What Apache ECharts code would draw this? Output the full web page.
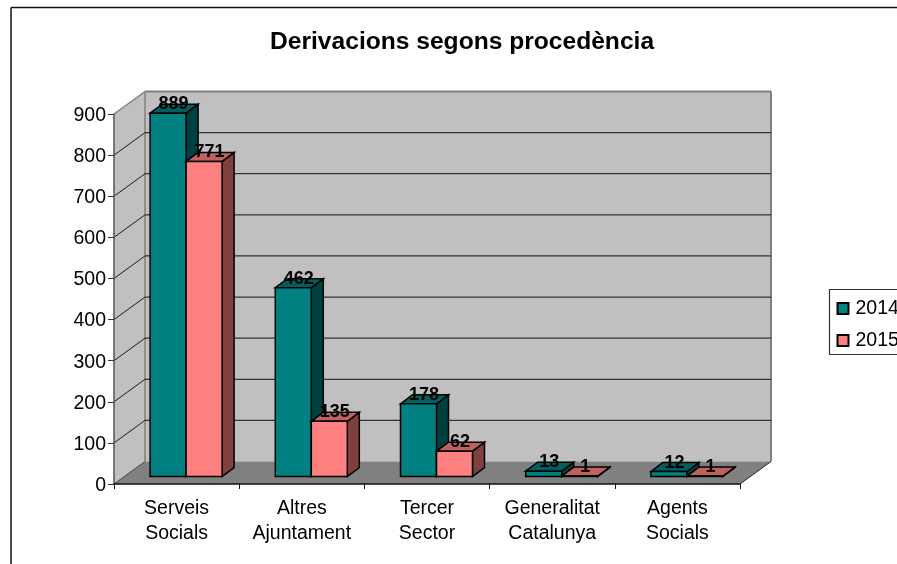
<!DOCTYPE html>
<html><head><meta charset="utf-8">
<style>html,body{margin:0;padding:0;background:#fff;overflow:hidden}#c{width:897px;height:564px}</style>
<script src="https://cdn.jsdelivr.net/npm/echarts@6/dist/echarts.min.js"></script>
</head><body><div id="c"></div>
<script>
const categories = ['Serveis\nSocials','Altres\nAjuntament','Tercer\nSector','Generalitat\nCatalunya','Agents\nSocials'];
const values2014 = [889,462,178,13,12];
const values2015 = [771,135,62,1,1];
const yTicks = [0,100,200,300,400,500,600,700,800,900];
const FONT = '"Liberation Sans", Arial, sans-serif';
const WALL_DX = 31, WALL_DY = -22.5;
const PLANE_DX = 9.5, PLANE_DY = -7.5, PLANE_SCALE = 0.994;
const BAR_DX = 12, BAR_DY = -9, BAR_W = 36;
const chart = echarts.init(document.getElementById('c'), null, {renderer:'canvas'});

function poly(points, fill, stroke, lw){
  return {type:'polygon', shape:{points}, style:{fill, stroke:stroke||null, lineWidth:lw===undefined?1.5:lw}};
}
function line(x1,y1,x2,y2,stroke,lw){
  return {type:'line', shape:{x1,y1,x2,y2}, style:{stroke, lineWidth:lw||1, fill:null}};
}
function renderWalls(params){
  const g = params.coordSys, L=g.x, R=g.x+g.width, T=g.y, B=g.y+g.height;
  const dx=WALL_DX, dy=WALL_DY;
  return {type:'group', silent:true, children:[
    poly([[L+dx,T+dy],[R+dx,T+dy],[R+dx,B+dy],[L+dx,B+dy]],'#C0C0C0'),
    poly([[L,T],[L+dx,T+dy],[L+dx,B+dy],[L,B]],'#C0C0C0'),
    poly([[L,B],[L+dx,B+dy],[R+dx,B+dy],[R,B]],'#808080'),
    line(L,T,L+dx,T+dy,'#808080',1.5),
    line(L+dx,T+dy,R+dx,T+dy,'#808080',2),
    line(R+dx,T+dy,R+dx,B+dy,'#808080',2),
    line(L+dx,T+dy,L+dx,B+dy,'#808080',1.5),
    line(L,B,L+dx,B+dy,'#444',1),
    line(R,B,R+dx,B+dy,'#222',1)
  ]};
}
function renderGrid(params, api){
  const g = params.coordSys, v = api.value(1);
  if (v===0 || v===900) return {type:'group',children:[]};
  const y = api.coord([0,v])[1];
  return {type:'group', silent:true, children:[
    line(g.x,y,g.x+WALL_DX,y+WALL_DY,'#1a1a1a',1),
    line(g.x+WALL_DX,y+WALL_DY,g.x+g.width+WALL_DX,y+WALL_DY,'#333',1.2)
  ]};
}
function barRenderer(side, front, top, dark){
  return function(params, api){
    const i = api.value(0), v = api.value(1);
    const c = api.coord([i,v]), b = api.coord([i,0]);
    const x0 = c[0] + PLANE_DX + (side<0 ? -BAR_W : 0);
    const x1 = x0 + BAR_W;
    const yB = b[1] + PLANE_DY, yT = yB - (b[1]-c[1])*PLANE_SCALE;
    const dx = BAR_DX, dy = BAR_DY;
    return {type:'group', children:[
      poly([[x1,yT],[x1+dx,yT+dy],[x1+dx,yB+dy],[x1,yB]],dark,'#000'),
      poly([[x0,yT],[x0+dx,yT+dy],[x1+dx,yT+dy],[x1,yT]],top,'#000'),
      poly([[x0,yT],[x1,yT],[x1,yB],[x0,yB]],front,'#000'),
      {type:'text', z2:100, style:{text:String(v), x:(x0+x1)/2+5.5, y:yT-9,
        align:'center', verticalAlign:'middle', font:'bold 18px '+FONT, fill:'#000'}}
    ]};
  };
}
const pairs = a => a.map((v,i)=>[i,v]);
chart.setOption({
  animation:false,
  backgroundColor:'#fff',
  title:{text:'Derivacions segons procedència', left:265, top:25,
    textStyle:{fontFamily:FONT, fontSize:24.6, fontWeight:'bold', color:'#000'}},
  legend:{orient:'vertical', left:829.5, top:289.5, padding:[9,60,4,7], itemGap:12,
    itemWidth:11, itemHeight:11, icon:'rect', data:['2014','2015'], borderColor:'#333', borderWidth:1.2,
    textStyle:{fontFamily:FONT, fontSize:19.5, color:'#000', padding:[0,0,0,2]}},
  grid:{left:114, right:157, top:114, bottom:80},
  xAxis:{type:'category', data:categories, z:6,
    axisLine:{show:true, lineStyle:{color:'#111', width:1.5}},
    axisTick:{show:true, alignWithLabel:false, length:5, lineStyle:{color:'#111', width:1}},
    axisLabel:{interval:0, margin:12, fontFamily:FONT, fontSize:19.5, lineHeight:25, color:'#000'}, splitLine:{show:false}},
  yAxis:{type:'value', min:0, max:900, interval:100, z:6,
    axisLine:{show:true, lineStyle:{color:'#555', width:1.5}},
    axisTick:{show:true, length:6, lineStyle:{color:'#333', width:1}},
    axisLabel:{margin:8, fontFamily:FONT, fontSize:19.5, color:'#000', verticalAlign:'top', lineHeight:3}, splitLine:{show:false}},
  graphic:[
    {type:'line', silent:true, shape:{x1:11,y1:7.5,x2:897,y2:7.5}, style:{stroke:'#111',lineWidth:1.5}},
    {type:'line', silent:true, shape:{x1:11,y1:7.5,x2:11,y2:564}, style:{stroke:'#111',lineWidth:1.5}}
  ],
  series:[
    {type:'custom', name:'walls', silent:true, z:1, data:[[0,0]], encode:{x:0,y:1}, renderItem:renderWalls},
    {type:'custom', name:'grid', silent:true, z:1.5, data:yTicks.map(v=>[0,v]), encode:{x:0,y:1}, renderItem:renderGrid},
    {type:'custom', name:'2014', z:3, data:pairs(values2014), encode:{x:0,y:1},
      itemStyle:{color:'#008080', borderColor:'#000', borderWidth:1.5},
      renderItem:barRenderer(-1,'#008080','#006060','#004040')},
    {type:'custom', name:'2015', z:4, data:pairs(values2015), encode:{x:0,y:1},
      itemStyle:{color:'#FF8080', borderColor:'#000', borderWidth:1.5},
      renderItem:barRenderer(1,'#FF8080','#C06060','#804040')}
  ]
});
</script></body></html>
